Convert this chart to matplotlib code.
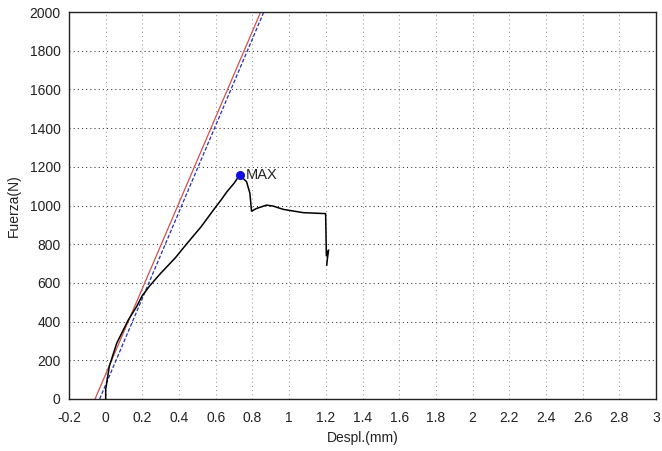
import matplotlib
matplotlib.use("Agg")
import matplotlib.pyplot as plt

plt.rcParams['font.family'] = ['Liberation Sans', 'DejaVu Sans']

# Measured force-displacement curve
despl = [0.0, 0.0, 0.01, 0.02, 0.06, 0.123, 0.17, 0.198, 0.24, 0.30, 0.38, 0.44,
         0.52, 0.586, 0.63, 0.66, 0.70, 0.73, 0.768, 0.786, 0.795, 0.823, 0.877, 0.913,
         0.968, 1.077, 1.199, 1.201, 1.203, 1.215, 1.208, 1.205]
fuerza = [0, 50, 110, 170, 288, 408, 480, 532, 585, 650, 730, 800,
          890, 975, 1030, 1070, 1115, 1157, 1123, 1064, 971, 985, 1002, 997,
          980, 963, 958, 850, 740, 770, 720, 692]

# Elastic fit lines (two offsets)
red_x = [-0.058, 0.845]
red_y = [0, 2000]
blue_x = [-0.033, 0.862]
blue_y = [0, 2000]

# Peak
max_x, max_y = 0.732, 1157
max_label = "MAX"

xticks = [-0.2, 0, 0.2, 0.4, 0.6, 0.8, 1, 1.2, 1.4, 1.6, 1.8, 2, 2.2, 2.4, 2.6, 2.8, 3]
xticklabels = ["-0.2", "0", "0.2", "0.4", "0.6", "0.8", "1", "1.2", "1.4", "1.6", "1.8",
               "2", "2.2", "2.4", "2.6", "2.8", "3"]
yticks = [0, 200, 400, 600, 800, 1000, 1200, 1400, 1600, 1800, 2000]

fig = plt.figure(figsize=(6.62, 4.51), dpi=100)
ax = fig.add_axes([69/662, 52/451, 587/662, 387/451])

ax.plot(red_x, red_y, color='#d05050', lw=0.9)
ax.plot(blue_x, blue_y, color='#2030b0', lw=0.9, ls=(0, (3, 1.5)))
ax.plot(despl, fuerza, color='black', lw=1.1)
ax.plot([max_x], [max_y], 'o', color='#1010e0', ms=5.5, zorder=5)
ax.annotate(max_label, (max_x, max_y), xytext=(4.5, 0), textcoords='offset points',
            fontsize=10.5, va='center', ha='left', color='#222222')

ax.set_xlim(-0.2, 3)
ax.set_ylim(0, 2000)
ax.set_xticks(xticks)
ax.set_xticklabels(xticklabels)
ax.set_yticks(yticks)
ax.tick_params(length=0, labelsize=10, colors='#222222')
ax.tick_params(axis='x', pad=9)
ax.tick_params(axis='y', pad=6)
ax.yaxis.grid(True, color='#333333', ls=(0, (1, 3)), lw=0.75)
ax.xaxis.grid(True, color='#999999', ls=(0, (1, 3)), lw=0.75)
for s in ax.spines.values():
    s.set_color('#222222')
    s.set_linewidth(1.0)

ax.set_xlabel("Despl.(mm)", fontsize=10, color='#222222', labelpad=4)
ax.set_ylabel("Fuerza(N)", fontsize=10, color='#222222', labelpad=6)

fig.savefig("out.png", dpi=100)
